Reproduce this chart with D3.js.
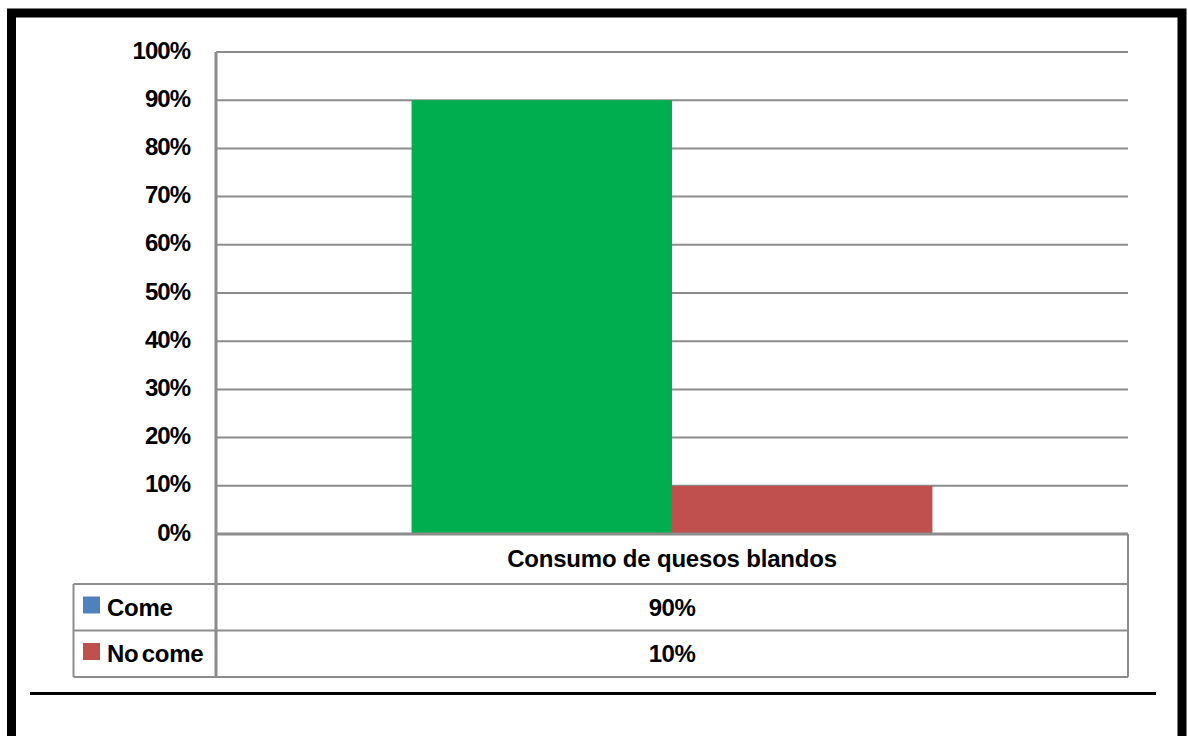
<!DOCTYPE html>
<html>
<head>
<meta charset="utf-8">
<script src="https://cdn.jsdelivr.net/npm/d3@7"></script>
<style>
  html, body { margin: 0; padding: 0; background: #fff; }
  svg { display: block; }
  text { font-family: "Liberation Sans", Arial, sans-serif; font-weight: bold; fill: #000; }
</style>
</head>
<body>
<svg id="chart" width="1188" height="736"></svg>
<script>
// Chart data
const categories = ["Consumo de quesos blandos"];
const seriesNames = ["Come", "No come"];
const seriesValues = [[0.90], [0.10]];          // one array per series, one value per category
const tableLabels = ["90%", "10%"];
const barColors = ["#00AD4F", "#C0504D"];        // fill used for the bars
const legendColors = ["#4F81BD", "#C0504D"];     // keys shown in the data table
const yTicks = [0, 0.1, 0.2, 0.3, 0.4, 0.5, 0.6, 0.7, 0.8, 0.9, 1.0];

const svg = d3.select("#chart");

// Outer frame
svg.append("rect")
  .attr("x", 11.5).attr("y", 13).attr("width", 1170.5).attr("height", 740)
  .attr("fill", "none").attr("stroke", "#000").attr("stroke-width", 9);

// Separator rule under the chart
svg.append("line")
  .attr("x1", 30).attr("x2", 1156).attr("y1", 693.5).attr("y2", 693.5)
  .attr("stroke", "#000").attr("stroke-width", 3);

const plot = { left: 216, right: 1128, top: 52, bottom: 534 };
const rowH = 46.5;
const tableTop = plot.bottom;
const tableLeft = 73.5;
const catRowH = 50;

const y = d3.scaleLinear().domain([0, 1]).range([plot.bottom, plot.top]);
const x0 = d3.scaleBand().domain(categories).range([plot.left, plot.right]).padding(0.273);
const x1 = d3.scaleBand().domain(seriesNames).range([0, x0.bandwidth()]).padding(0);

const gridColor = "#8C8C8C";

// Gridlines
svg.append("g").selectAll("line").data(yTicks).join("line")
  .attr("x1", plot.left).attr("x2", plot.right)
  .attr("y1", d => y(d)).attr("y2", d => y(d))
  .attr("stroke", gridColor).attr("stroke-width", 2);

// Y axis labels
const yAxis = d3.axisLeft(y).tickValues(yTicks).tickFormat(d3.format(".0%")).tickSize(0).tickPadding(26);
const gy = svg.append("g").attr("transform", `translate(${plot.left},0)`).call(yAxis);
gy.select(".domain").remove();
gy.selectAll("text")
  .attr("dy", "0.25em")
  .style("font-size", "24px").style("letter-spacing", "-1px")
  .style("font-family", "'Liberation Sans', Arial, sans-serif").style("font-weight", "bold");

// Bars
const groups = svg.append("g").selectAll("g").data(categories).join("g")
  .attr("transform", d => `translate(${x0(d)},0)`);
groups.selectAll("rect")
  .data((d, ci) => seriesNames.map((s, si) => ({ s, si, v: seriesValues[si][ci] })))
  .join("rect")
  .attr("x", d => x1(d.s))
  .attr("width", x1.bandwidth())
  .attr("y", d => y(d.v))
  .attr("height", d => y(0) - y(d.v))
  .attr("fill", d => barColors[d.si]);

// Baseline over the bars
svg.append("line")
  .attr("x1", plot.left).attr("x2", plot.right)
  .attr("y1", y(0)).attr("y2", y(0))
  .attr("stroke", gridColor).attr("stroke-width", 3);

// Vertical axis line, continuing down through the data table
const tableBottom = tableTop + catRowH + rowH * seriesNames.length;
svg.append("line")
  .attr("x1", plot.left).attr("x2", plot.left)
  .attr("y1", plot.top).attr("y2", tableBottom)
  .attr("stroke", gridColor).attr("stroke-width", 3);

// Data table: category row
const table = svg.append("g");
table.append("line")
  .attr("x1", plot.right).attr("x2", plot.right)
  .attr("y1", tableTop).attr("y2", tableBottom)
  .attr("stroke", gridColor).attr("stroke-width", 2);

categories.forEach(c => {
  table.append("text")
    .attr("x", x0(c) + x0.bandwidth() / 2)
    .attr("y", tableTop + catRowH / 2)
    .attr("dy", "0.35em").attr("text-anchor", "middle")
    .style("font-size", "24px").style("letter-spacing", "-0.2px")
    .text(c);
});

// Data table: series rows
seriesNames.forEach((s, i) => {
  const top = tableTop + catRowH + rowH * i;
  table.append("line")
    .attr("x1", tableLeft).attr("x2", plot.right)
    .attr("y1", top).attr("y2", top)
    .attr("stroke", gridColor).attr("stroke-width", 2);
  table.append("rect")
    .attr("x", 83).attr("y", top + 12.5).attr("width", 17).attr("height", 17)
    .attr("fill", legendColors[i]);
  table.append("text")
    .attr("x", 107).attr("y", top + rowH / 2)
    .attr("dy", "0.35em")
    .style("font-size", "24px").style("letter-spacing", "-0.3px").style("word-spacing", "-3px")
    .text(s);
  table.append("text")
    .attr("x", (plot.left + plot.right) / 2).attr("y", top + rowH / 2)
    .attr("dy", "0.35em").attr("text-anchor", "middle")
    .style("font-size", "24px").style("letter-spacing", "-0.5px")
    .text(tableLabels[i]);
});
table.append("line")
  .attr("x1", tableLeft).attr("x2", plot.right)
  .attr("y1", tableBottom).attr("y2", tableBottom)
  .attr("stroke", gridColor).attr("stroke-width", 2);
table.append("line")
  .attr("x1", tableLeft).attr("x2", tableLeft)
  .attr("y1", tableTop + catRowH).attr("y2", tableBottom)
  .attr("stroke", gridColor).attr("stroke-width", 2);
</script>
</body>
</html>
